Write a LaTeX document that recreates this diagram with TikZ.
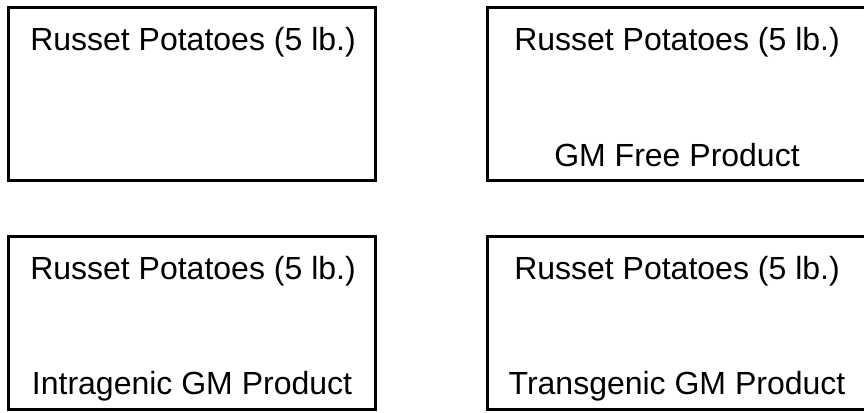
\documentclass[tikz,border=0pt]{standalone}
\usepackage{fontspec}
\setmainfont{Liberation Sans}
\begin{document}
\begin{tikzpicture}[x=1pt,y=-1pt,
  box/.style={draw=black,line width=3pt,rectangle,inner sep=0pt},
  lbl/.style={anchor=base,inner sep=0pt,font=\fontsize{32pt}{36pt}\selectfont}]
\useasboundingbox (0,0) rectangle (864,412);
\clip (0,0) rectangle (864,412);
\node[box,minimum width=367pt,minimum height=172pt] (b1) at (191.5,94) {};
\node[box,minimum width=380pt,minimum height=172pt] (b2) at (677,94) {};
\node[box,minimum width=367pt,minimum height=173pt] (b3) at (191.5,322.5) {};
\node[box,minimum width=380pt,minimum height=173pt] (b4) at (677,322.5) {};
\node[lbl] (t1) at (193,51) {Russet Potatoes (5 lb.)};
\node[lbl] (t2) at (677,51) {Russet Potatoes (5 lb.)};
\node[lbl] (t2b) at (677,166) {GM Free Product};
\node[lbl] (t3) at (193,279) {Russet Potatoes (5 lb.)};
\node[lbl] (t3b) at (192,394) {Intragenic GM Product};
\node[lbl] (t4) at (677,279) {Russet Potatoes (5 lb.)};
\node[lbl] (t4b) at (677,394) {Transgenic GM Product};
\end{tikzpicture}
\end{document}
